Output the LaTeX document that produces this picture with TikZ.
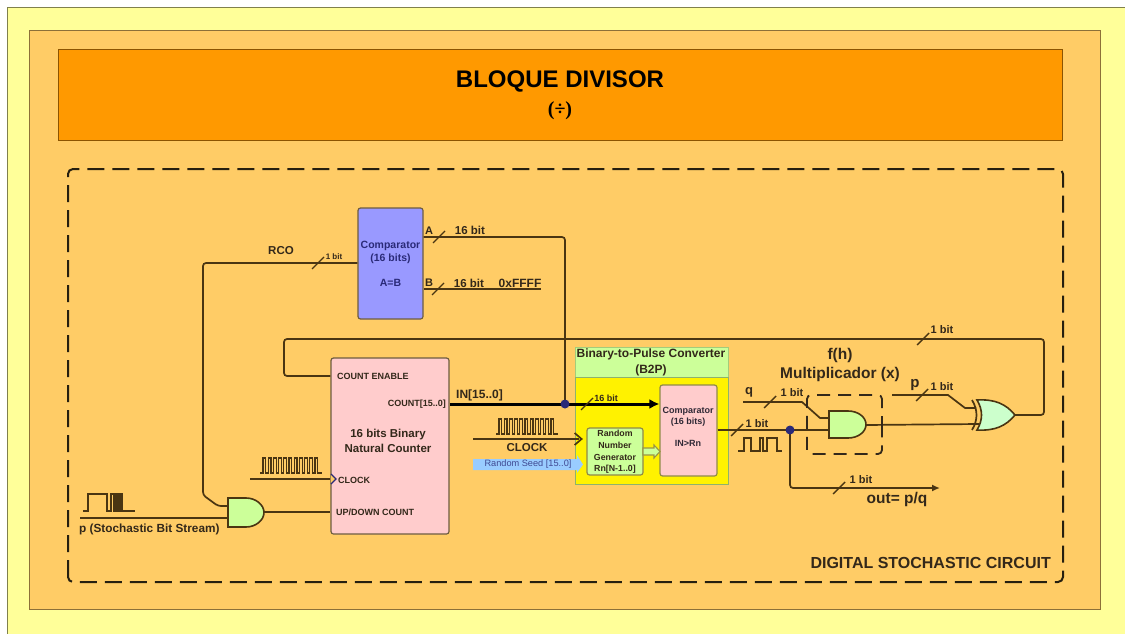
\documentclass[tikz,border=0pt]{standalone}
\usepackage{fontspec}
\setmainfont{Liberation Sans}
\newfontfamily\serifbold{Liberation Serif}
\usetikzlibrary{arrows.meta}
\definecolor{paleyellow}{HTML}{FFFF99}
\definecolor{panelorange}{HTML}{FFCC66}
\definecolor{titleorange}{HTML}{FF9900}
\definecolor{wirecol}{HTML}{4A3512}
\definecolor{inkcol}{HTML}{33281A}
\definecolor{navycol}{HTML}{2A2A78}
\definecolor{blockblue}{HTML}{9999FF}
\definecolor{blockpink}{HTML}{FFCCCC}
\definecolor{blockgreen}{HTML}{CCFF99}
\definecolor{seedblue}{HTML}{99CCFF}
\definecolor{xorgreen}{HTML}{CCFFCC}
\tikzset{
  wire/.style={draw=wirecol, line width=1.7pt, rounded corners=3pt},
  wave/.style={draw=wirecol, line width=1.1pt},
  slashmark/.style={draw=wirecol, line width=1.4pt},
  block/.style={draw=wirecol!80, line width=1.2pt, rounded corners=2.5pt, align=center, inner sep=0pt},
  gatebody/.style={draw=wirecol, line width=1.6pt, fill=blockgreen},
  lbl/.style={font=\bfseries\fontsize{9}{11}\selectfont, text=inkcol, inner sep=0pt, align=center},
  bitlbl/.style={font=\bfseries\fontsize{11}{13}\selectfont, text=inkcol, inner sep=0pt},
  biglbl/.style={font=\bfseries\fontsize{15.5}{19.5}\selectfont, text=inkcol, inner sep=0pt, align=center},
  dot/.style={circle, fill=navycol, inner sep=0pt, minimum size=9pt}
}
% slash across a bus
\newcommand{\slashat}[2]{\draw[slashmark] (#1-6,#2+6) -- (#1+6,#2-6);}
% clock burst
\newcommand{\clockwave}[2]{
  \draw[wave] (#1,#2) -- ++(3,0)
    \foreach \k in {1,...,11} { -- ++(0,-15) -- ++(2.8,0) -- ++(0,15) -- ++(2.4,0) } -- ++(2,0);
}
\begin{document}
\begin{tikzpicture}[x=1pt,y=-1pt]
\useasboundingbox (0,0) rectangle (1125,634);
% backgrounds
\draw[draw=black!50!paleyellow, fill=paleyellow, line width=0.8pt] (7,7) rectangle (1140,650);
\draw[draw=black!45!panelorange, fill=panelorange, line width=0.8pt] (29,30) rectangle (1100,609);
\node[draw=black!45!titleorange, fill=titleorange, line width=0.8pt, minimum width=1004pt, minimum height=91pt, inner sep=0pt] (titlebar) at (560.5,94.5) {};
\node[inner sep=0pt, font=\bfseries\fontsize{24}{28}\selectfont] (titletext) at (560,81) {BLOQUE DIVISOR};
\node[inner sep=0pt, font=\serifbold\bfseries\fontsize{20}{24}\selectfont] (divsign) at (560,111) {(÷)};
\draw[black!85!panelorange, line width=2pt, dash pattern=on 17pt off 8pt, rounded corners=5pt] (68,582) -- (68,169) -- (1063,169) -- (1063,582) -- cycle;
\node[biglbl, anchor=east, font=\bfseries\fontsize{16}{19}\selectfont] (circuitname) at (1051,563) {DIGITAL STOCHASTIC CIRCUIT};

% blocks
\node[block, fill=blockblue, minimum width=65pt, minimum height=111pt] (cmpA) at (390.5,263.5) {};
\node[block, fill=blockpink, minimum width=118pt, minimum height=176pt] (counter) at (390,446) {};
\node[draw=black!20!blockgreen, fill=blockgreen, line width=0.8pt, minimum width=153pt, minimum height=30pt, inner sep=0pt] (b2ptop) at (651.5,362) {};
\node[draw=black!30!blockgreen, fill=yellow, line width=0.8pt, minimum width=153pt, minimum height=107pt, inner sep=0pt] (b2pbody) at (651.5,430.5) {};
\node[block, draw=black!50!yellow, fill=blockpink, minimum width=57pt, minimum height=91pt] (cmpB) at (688.5,430.5) {};
\node[block, draw=black!50!yellow, fill=blockgreen, minimum width=56pt, minimum height=47pt] (rng) at (615,451.5) {};

% block texts
\node[lbl, text=navycol, font=\bfseries\fontsize{10.5}{13}\selectfont] (cmpAtxt) at (390.5,252) {Comparator\\(16 bits)};
\node[lbl, text=navycol, font=\bfseries\fontsize{10.5}{13}\selectfont] (cmpAeq) at (390.5,283) {A=B};
\node[lbl, anchor=west] (cntenable) at (337,376) {COUNT ENABLE};
\node[lbl, anchor=east] (cntout) at (446,404) {COUNT[15..0]};
\node[lbl, font=\bfseries\fontsize{11.5}{14.5}\selectfont] (cnttxt) at (388,441) {16 bits Binary\\Natural Counter};
\node[lbl, anchor=west] (cntclock) at (338,480) {CLOCK};
\node[lbl, anchor=west] (cntupdown) at (336,512) {UP/DOWN COUNT};
\node[lbl, font=\bfseries\fontsize{12}{16}\selectfont] (b2ptxt) at (651,362) {Binary-to-Pulse Converter\\(B2P)};
\node[lbl, text=inkcol!70!navycol] (cmpBtxt) at (688,417) {Comparator\\(16 bits)};
\node[lbl, text=inkcol!70!navycol] (cmpBin) at (688,443) {IN>Rn};
\node[lbl, font=\bfseries\fontsize{8.8}{11.7}\selectfont] (rngtxt) at (615,452) {Random\\Number\\Generator\\Rn[N-1..0]};

% gates
\draw[gatebody] (228,498) -- (246,498) .. controls (256,498) and (264,505) .. (264,512.5)
  .. controls (264,520) and (256,527) .. (246,527) -- (228,527) -- cycle;
\draw[gatebody] (829,411) -- (848,411) .. controls (858,411) and (866,417) .. (866,424.5)
  .. controls (866,432) and (858,438) .. (848,438) -- (829,438) -- cycle;
\draw[gatebody, fill=xorgreen] (977,400) .. controls (995,399) and (1006,404) .. (1015,415)
  .. controls (1006,426) and (995,431) .. (977,430) .. controls (983,420) and (983,410) .. (977,400) -- cycle;
\draw[wire, rounded corners=0pt] (972,400) .. controls (978,410) and (978,420) .. (972,430);

% named wire ends
\coordinate (andAinA) at (228,506);
\coordinate (andAinB) at (228,518);
\coordinate (andAout) at (264,512);
\coordinate (andBinA) at (829,418);
\coordinate (andBinB) at (829,430);
\coordinate (andBout) at (866,425);
\coordinate (xorinA) at (976,408);
\coordinate (xorinB) at (979,424);
\coordinate (xorout) at (1015,415);
\coordinate (pstart) at (80,518);
\coordinate (clkstart) at (250,479);
\coordinate (clockB) at (473,439);
\coordinate (qstart) at (743,402);
\coordinate (pmult) at (892,395);
\coordinate (outend) at (940,488);
\coordinate (Bend) at (541,289);
\coordinate (busjoin) at (565,404);
\coordinate (outjoin) at (790,430);

% wires
\draw[wire] (cmpA.west |- 0,263) -- (203,263) -- (203,495) -- (218,506) -- (andAinA);
\draw[wire] (pstart) -- (andAinB);
\draw[wire] (andAout) -- (counter.west |- andAout);
\draw[wire] (clkstart) -- (counter.west |- clkstart);
\draw[wire] (cntenable.west -| counter.west) -- (284,376) -- (284,339) -- (1044,339) -- (1044,415) -- (xorout);
\draw[wire] (cmpA.east |- 0,237) -- (565,237) -- (busjoin);
\draw[wire] (cmpA.east |- 0,289) -- (Bend);
\draw[black, line width=3pt, -{Latex[length=10pt,width=10pt]}] (counter.east |- busjoin) -- (cmpB.west |- busjoin);
\draw[wire] (cmpB.east |- outjoin) -- (andBinB);
\draw[wire, rounded corners=0pt] (qstart) -- (802,402) -- (820,418) -- (andBinA);
\draw[wire] (andBout) -- (xorinB);
\draw[wire, rounded corners=0pt] (pmult) -- (948,395) -- (965,408) -- (xorinA);
\draw[wire, -{Latex[length=8pt,width=7pt]}] (outjoin) -- (790,488) -- (outend);
\draw[wire] (clockB) -- (579,439);
\draw[wire, rounded corners=0pt] (b2pbody.west |- 0,433) -- ++(7,6) -- ++(-7,6);
\draw[draw=navycol, line width=1.1pt, fill=panelorange] (331,474) -- (336,479) -- (331,484);
\node[dot] (busdot) at (busjoin) {};
\node[dot] (outdot) at (outjoin) {};

% green and blue fat arrows
\draw[draw=black!45!yellow, fill=blockgreen, line width=1.1pt] (643,448) -- (654,448) -- (654,445) -- (660,451.5) -- (654,458) -- (654,455) -- (643,455) -- cycle;
\fill[seedblue] (473,459) -- (577,459) -- (577,455) -- (583,464.5) -- (577,473) -- (577,470) -- (473,470) -- cycle;
\node[lbl, font=\fontsize{9.2}{11}\selectfont, text=navycol!80!seedblue] (seedtxt) at (528,464) {Random Seed [15..0]};

% waves
\clockwave{260}{473}
\clockwave{496}{434}
\draw[wave] (83,511) -- (88,511) -- (88,494) -- (107,494) -- (107,511) -- (111,511) -- (111,494) -- (114,494) -- (114,511) -- (116,511) -- (116,494) -- (118,494) -- (118,511) -- (120,511) -- (120,494) -- (122,494) -- (122,511) -- (135,511);
\draw[wave] (738,451) -- (744,451) -- (744,438) -- (751,438) -- (751,451) -- (760,451) -- (760,438) -- (763,438) -- (763,451) -- (767,451) -- (767,438) -- (777,438) -- (777,451) -- (782,451);

% slashes on the buses
\slashat{318}{263}
\slashat{439}{237}
\slashat{438}{289}
\slashat{587}{404}
\slashat{737}{430}
\slashat{770}{402}
\slashat{922}{395}
\slashat{923}{339}
\slashat{839}{488}

% wire labels
\node[lbl, font=\bfseries\fontsize{11.5}{14}\selectfont] (rcotxt) at (281,251) {RCO};
\node[lbl, font=\bfseries\fontsize{8}{10}\selectfont] (rcobit) at (334,257) {1 bit};
\node[bitlbl] (Atxt) at (429,231) {A};
\node[bitlbl] (Btxt) at (429,283) {B};
\node[bitlbl, font=\bfseries\fontsize{11.5}{13}\selectfont] (Abits) at (470,230) {16 bit};
\node[bitlbl, font=\bfseries\fontsize{11.5}{13}\selectfont] (Bbits) at (469,283) {16 bit};
\node[bitlbl, font=\bfseries\fontsize{12}{13}\selectfont] (Bval) at (520,283) {0xFFFF};
\node[bitlbl, anchor=west, font=\bfseries\fontsize{12}{14}\selectfont] (intxt) at (456,395) {IN[15..0]};
\node[lbl] (busbits) at (606,398) {16 bit};
\node[bitlbl, font=\bfseries\fontsize{11.5}{14}\selectfont] (clocktxt) at (527,448) {CLOCK};
\node[bitlbl, anchor=west, font=\bfseries\fontsize{11.8}{14}\selectfont] (ptxt) at (79,529) {p (Stochastic Bit Stream)};
\node[biglbl] (multtxt) at (840,365) {f(h)\\Multiplicador (x)};
\node[biglbl, font=\bfseries\fontsize{13}{16}\selectfont] (qtxt) at (749,392) {q};
\node[bitlbl] (qbit) at (792,393) {1 bit};
\node[bitlbl] (outbit) at (757,424) {1 bit};
\node[biglbl, font=\bfseries\fontsize{15}{18}\selectfont] (ptop) at (915,385) {p};
\node[bitlbl] (pbit) at (942,387) {1 bit};
\node[bitlbl] (loopbit) at (942,330) {1 bit};
\node[bitlbl] (downbit) at (861,480) {1 bit};
\node[biglbl] (outtxt) at (897,499) {out= p/q};

% multiplier box
\draw[draw=inkcol, line width=1.8pt, dash pattern=on 13pt off 8pt, rounded corners=4pt] (882,433) -- (882,395) -- (807,395) -- (807,454) -- (882,454) -- cycle;
\end{tikzpicture}
\end{document}
